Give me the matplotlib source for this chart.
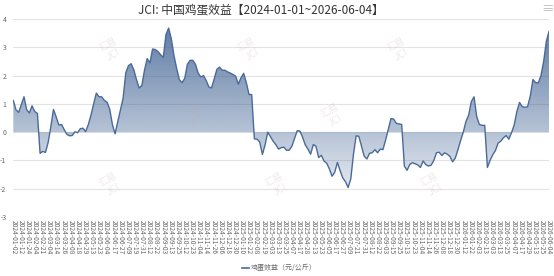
import numpy as np
import matplotlib
matplotlib.use("Agg")
import matplotlib.pyplot as plt
from matplotlib.colors import to_rgb

plt.rcParams['font.family'] = ['Noto Sans CJK SC', 'DejaVu Sans']

title = "JCI: 中国鸡蛋效益【2024-01-01~2026-06-04】"
series_name = "鸡蛋效益（元/公斤）"

# x-axis labels, one every 8 trading days
tick_labels = [
    "2024-01-02", "2024-01-12", "2024-01-24", "2024-02-04", "2024-02-21", "2024-03-04",
    "2024-03-14", "2024-03-26", "2024-04-08", "2024-04-18", "2024-04-29", "2024-05-13",
    "2024-05-23", "2024-06-04", "2024-06-17", "2024-06-27", "2024-07-09", "2024-07-19",
    "2024-07-31", "2024-08-12", "2024-08-22", "2024-09-03", "2024-09-13", "2024-09-25",
    "2024-10-12", "2024-10-23", "2024-11-04", "2024-11-14", "2024-11-26", "2024-12-06",
    "2024-12-18", "2024-12-30", "2025-01-10", "2025-01-22", "2025-02-08", "2025-02-19",
    "2025-03-03", "2025-03-13", "2025-03-25", "2025-04-07", "2025-04-17", "2025-04-28",
    "2025-05-13", "2025-05-23", "2025-06-05", "2025-06-17", "2025-06-27", "2025-07-09",
    "2025-07-21", "2025-07-31", "2025-08-12", "2025-08-22", "2025-09-03", "2025-09-15",
    "2025-09-25", "2025-10-13", "2025-10-23", "2025-11-04", "2025-11-14", "2025-11-26",
    "2025-12-08", "2025-12-18", "2025-12-30", "2026-01-12", "2026-01-22", "2026-02-03",
    "2026-02-13", "2026-03-03", "2026-03-13", "2026-03-25", "2026-04-07", "2026-04-17",
    "2026-04-29", "2026-05-13", "2026-05-25", "2026-06-04",
]
label_step = 8
sample_step = 3  # values read every 3 trading days

# egg profit (yuan/kg), every 3 trading days
profit = [
    1.12, 0.79, 0.70, 0.97, 1.25, 0.79, 0.68, 0.93, 0.73, 0.66,
    -0.75, -0.68, -0.72, -0.37, 0.18, 0.80, 0.54, 0.25, 0.27, 0.09,
    -0.08, -0.13, -0.12, 0.01, -0.02, 0.12, 0.14, 0.02, 0.26, 0.60,
    1.00, 1.38, 1.25, 1.25, 1.12, 1.06, 0.81, 0.27, -0.06, 0.37,
    0.78, 1.20, 2.10, 2.35, 2.42, 2.20, 1.85, 1.56, 1.65, 2.20,
    2.60, 2.45, 2.94, 2.92, 2.85, 2.74, 2.64, 3.45, 3.68, 3.30,
    2.70, 2.25, 1.85, 1.75, 1.90, 2.40, 2.54, 2.54, 2.40, 2.09,
    1.95, 2.00, 1.83, 1.60, 1.56, 1.88, 2.22, 2.30, 2.19, 2.19,
    2.13, 2.09, 2.04, 1.98, 1.70, 1.92, 2.08, 1.75, 1.33, 1.33,
    -0.24, -0.25, -0.35, -0.79, -0.45, 0.00, -0.16, -0.32, -0.44, -0.60,
    -0.55, -0.53, -0.64, -0.64, -0.50, -0.23, 0.05, 0.04, -0.18, -0.45,
    -0.60, -0.78, -0.44, -0.50, -0.90, -0.82, -1.02, -1.10, -1.30, -1.56,
    -1.42, -1.07, -1.36, -1.62, -1.75, -1.96, -1.65, -0.78, -0.13, -0.15,
    -0.50, -0.85, -0.95, -0.75, -0.73, -0.62, -0.73, -0.60, -0.62, -0.28,
    0.10, 0.48, 0.46, 0.31, 0.29, 0.27, -1.20, -1.35, -1.15, -1.08,
    -1.12, -1.16, -1.25, -1.02, -1.15, -1.20, -1.17, -1.00, -0.73, -0.71,
    -0.83, -0.73, -0.78, -0.86, -1.05, -0.92, -0.62, -0.30, 0.00, 0.38,
    0.60, 1.08, 1.25, 0.55, 0.27, 0.24, 0.24, -1.25, -1.00, -0.80,
    -0.65, -0.39, -0.32, -0.20, -0.12, -0.25, -0.02, 0.25, 0.73, 1.05,
    0.90, 0.88, 0.90, 1.27, 1.86, 1.75, 1.74, 2.00, 2.50, 3.21,
    3.56,
]

y_ticks = [-3, -2, -1, 0, 1, 2, 3, 4]

line_color = "#4a6a99"
fill_color = "#3c5f91"

x = np.arange(len(profit)) * sample_step
y = np.array(profit)
n_days = (len(tick_labels) - 1) * label_step

fig = plt.figure(figsize=(5.54, 2.76), dpi=100)
ax = fig.add_axes([0.024, 0.214, 0.967, 0.717])
ax.set_xlim(0, n_days)
ax.set_ylim(-3, 4)

# vertical gradient, clipped to the area between the curve and zero
rgb = to_rgb(fill_color)
grad = np.zeros((256, 1, 4))
grad[..., 0], grad[..., 1], grad[..., 2] = rgb
grad[:, 0, 3] = np.linspace(0.85, 0.02, 256)
area = ax.fill_between(x, y, 0, color="none", lw=0)
img = ax.imshow(grad, extent=[0, n_days, -3, 4], aspect="auto", origin="upper", zorder=1)
img.set_clip_path(area.get_paths()[0], transform=ax.transData)

ax.plot(x, y, color=line_color, lw=1.0, zorder=3)

ax.set_yticks(y_ticks)
ax.set_yticklabels([str(v) for v in y_ticks], fontsize=5, color="#666666")
ax.grid(axis="y", color="#e3e3e3", lw=0.8, zorder=0)
ax.set_axisbelow(True)
ax.set_xticks(np.arange(len(tick_labels)) * label_step)
ax.set_xticklabels(tick_labels, rotation=270, fontsize=4.8, color="#666666")
ax.tick_params(length=0, pad=2)
ax.tick_params(axis="y", pad=5)
for s in ax.spines.values():
    s.set_visible(False)

# faint watermarks
for wx, wy in [(0.2, 0.82), (0.45, 0.82), (0.72, 0.82), (0.35, 0.58), (0.6, 0.58),
               (0.2, 0.33), (0.5, 0.33), (0.78, 0.33)]:
    fig.text(wx, wy, "汇易\nJCI", fontsize=7, color="#c8a8a8", alpha=0.25,
             rotation=30, ha="center", va="center")

fig.text(0.47, 0.962, title, ha="center", va="center", fontsize=8.5, color="#333333")
fig.text(0.988, 0.965, "≡", ha="center", va="center", fontsize=9, color="#bbbbbb")

# legend
fig.lines.append(plt.Line2D([0.437, 0.449], [0.028, 0.028], transform=fig.transFigure,
                            color=line_color, lw=1.2))
fig.text(0.453, 0.028, series_name, ha="left", va="center", fontsize=5, color="#666666")

fig.savefig("out.png", dpi=100)
